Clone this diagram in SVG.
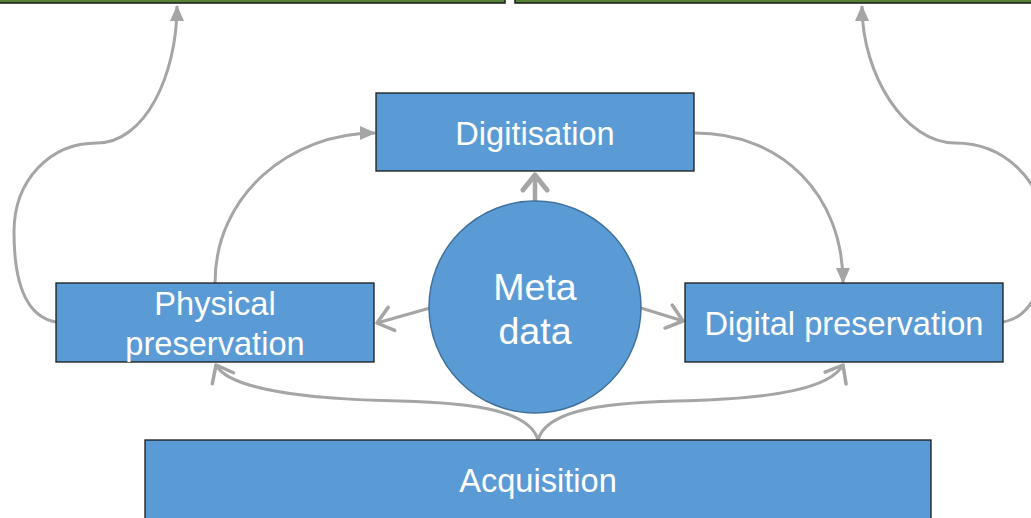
<svg xmlns="http://www.w3.org/2000/svg" width="1031" height="518" viewBox="0 0 1031 518">
<style>
.box{fill:#5B9BD5;stroke:#1a1a1a;stroke-width:1.3}
.bar{fill:#548235;stroke:#1a1a1a;stroke-width:1.5}
.lbl{font-family:"Liberation Sans",Arial,sans-serif;font-size:32.6px;fill:#fff;text-anchor:middle}
.big{font-size:37.6px}
.con{fill:none;stroke:#A5A5A5;stroke-width:3}
.thick{stroke-width:4.5}
</style>
<defs>
<marker id="tri" markerUnits="userSpaceOnUse" markerWidth="16" markerHeight="16" viewBox="0 0 16 16" refX="15" refY="8" orient="auto">
<path d="M0,1 L16,8 L0,15 Z" fill="#A5A5A5"/>
</marker>
<marker id="chev" markerUnits="userSpaceOnUse" markerWidth="20" markerHeight="28" viewBox="0 0 20 28" refX="17" refY="14" orient="auto">
<path d="M2,2 L17,14 L2,26" fill="none" stroke="#A5A5A5" stroke-width="3.5" stroke-linecap="round" stroke-linejoin="round"/>
</marker>
<marker id="chevb" markerUnits="userSpaceOnUse" markerWidth="22" markerHeight="30" viewBox="0 0 22 30" refX="18" refY="15" orient="auto">
<path d="M3,3 L18,15 L3,27" fill="none" stroke="#A5A5A5" stroke-width="5" stroke-linecap="round" stroke-linejoin="round"/>
</marker>
</defs>
<g id="bar-left"><rect class="bar" x="-10" y="-20" width="515" height="23"/></g>
<g id="bar-right"><rect class="bar" x="515" y="-20" width="530" height="23"/></g>
<g id="connectors">
<path class="con" d="M56,322 C22,316 14,275 14,232 C14,180 50,143 97,143 C145,143 177,75 177,6" marker-end="url(#tri)"/>
<path class="con" d="M1003,322 C1038,316 1048,270 1046,225 C1040,180 1005,143 955,143 C905,143 862,75 862,6" marker-end="url(#tri)"/>
<path class="con" d="M215,283 C215,195 290,133 375,133" marker-end="url(#tri)"/>
<path class="con" d="M695,133 C782,133 843,195 843,283" marker-end="url(#tri)"/>
<path class="con thick" d="M535,202 L535,175" marker-end="url(#chevb)"/>
<path class="con" d="M430,308 L377,323" marker-end="url(#chev)"/>
<path class="con" d="M641,308 L683,321" marker-end="url(#chev)"/>
<path class="con" d="M538,440 C530,412 480,403 400,401 C300,399 228,388 216,365" marker-end="url(#chev)"/>
<path class="con" d="M538,440 C546,412 596,403 676,401 C776,399 830,388 843,365" marker-end="url(#chev)"/>
</g>
<g id="digitisation"><rect class="box" x="376" y="93" width="318" height="78"/><text class="lbl" x="535" y="145">Digitisation</text></g>
<g id="physical-preservation"><rect class="box" x="56" y="283" width="318" height="79"/><text class="lbl" x="215" y="315">Physical</text><text class="lbl" x="215" y="355">preservation</text></g>
<g id="digital-preservation"><rect class="box" x="685" y="283" width="318" height="79"/><text class="lbl" x="844" y="335">Digital preservation</text></g>
<g id="metadata"><circle cx="535" cy="307" r="106" fill="#5B9BD5" stroke="#41719C" stroke-width="1.5"/><text class="lbl big" x="535" y="300">Meta</text><text class="lbl big" x="535" y="344">data</text></g>
<g id="acquisition"><rect class="box" x="145" y="440" width="786" height="90"/><text class="lbl" x="538" y="492">Acquisition</text></g>
</svg>
